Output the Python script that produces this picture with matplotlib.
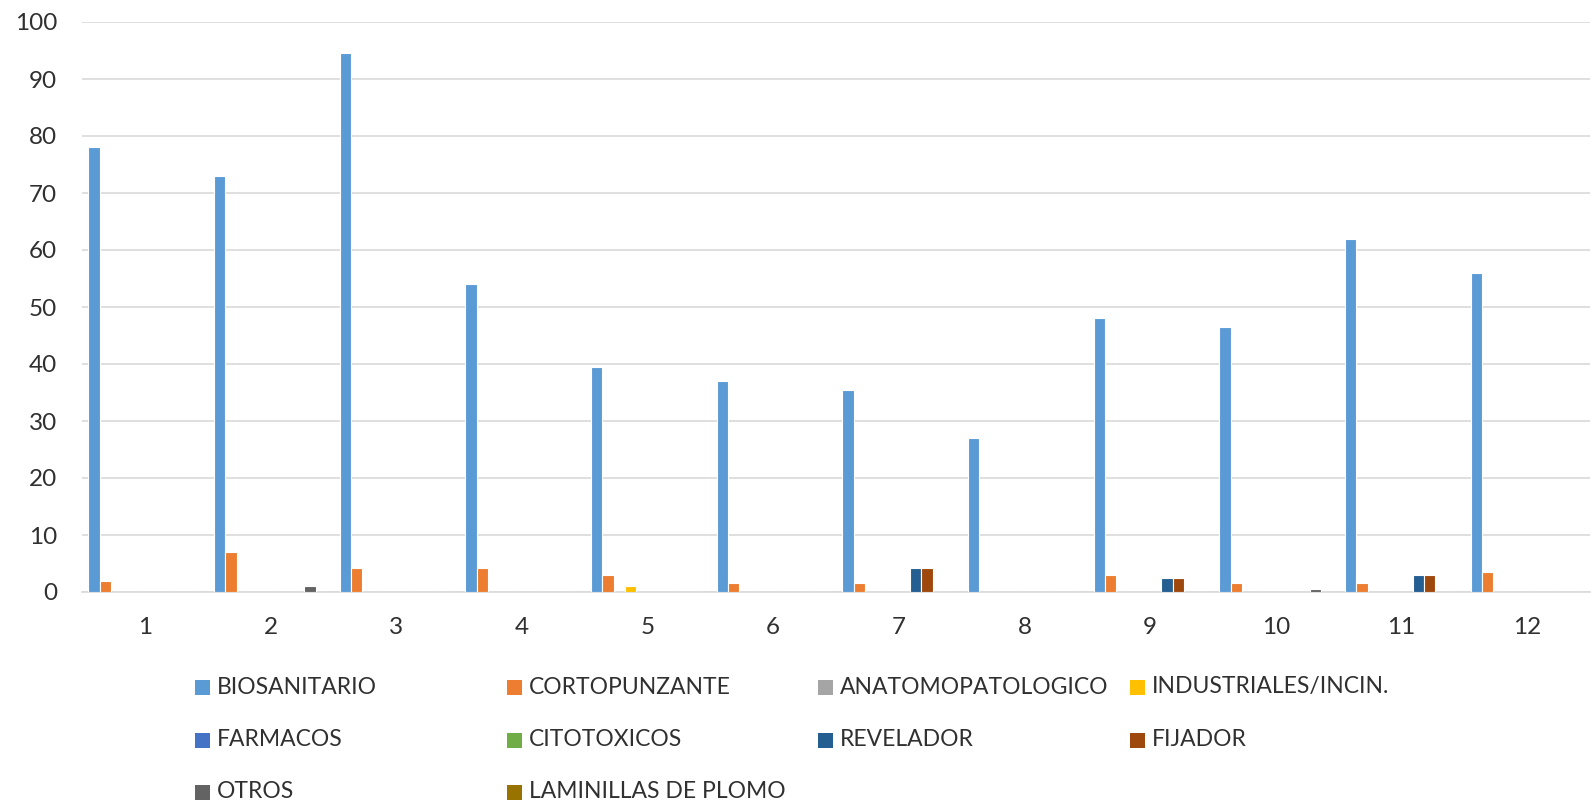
import matplotlib
matplotlib.use("Agg")
import matplotlib.pyplot as plt
from matplotlib.patches import Rectangle
import numpy as np

plt.rcParams['font.family'] = ['Lato', 'DejaVu Sans']

groups = ["1", "2", "3", "4", "5", "6", "7", "8", "9", "10", "11", "12"]
series_names = ["BIOSANITARIO", "CORTOPUNZANTE", "ANATOMOPATOLOGICO", "INDUSTRIALES/INCIN.",
                "FARMACOS", "CITOTOXICOS", "REVELADOR", "FIJADOR", "OTROS", "LAMINILLAS DE PLOMO"]
colors = ["#5B9BD5", "#ED7D31", "#A5A5A5", "#FFC000", "#4472C4", "#70AD47",
          "#255E91", "#9E480E", "#636363", "#997300"]

biosanitario = [78, 73, 94.5, 54, 39.5, 37, 35.5, 27, 48, 46.5, 62, 56]
cortopunzante = [2, 7, 4.2, 4.2, 3, 1.5, 1.5, 0, 3, 1.5, 1.5, 3.5]
anatomopatologico = [0] * 12
industriales = [0, 0, 0, 0, 1, 0, 0, 0, 0, 0, 0, 0]
farmacos = [0] * 12
citotoxicos = [0] * 12
revelador = [0, 0, 0, 0, 0, 0, 4.2, 0, 2.5, 0, 3, 0]
fijador = [0, 0, 0, 0, 0, 0, 4.2, 0, 2.5, 0, 3, 0]
otros = [0, 1, 0, 0, 0, 0, 0, 0, 0, 0.5, 0, 0]
laminillas = [0] * 12

data = [biosanitario, cortopunzante, anatomopatologico, industriales, farmacos,
        citotoxicos, revelador, fijador, otros, laminillas]

W, H = 1591, 802
fig = plt.figure(figsize=(W / 100, H / 100), dpi=100)
ax_l, ax_r, ax_t, ax_b = 82, 1590, 22, 592
ax = fig.add_axes([ax_l / W, 1 - ax_b / H, (ax_r - ax_l) / W, (ax_b - ax_t) / H])

x = np.arange(len(groups))
slot = 0.0897
n = len(data)
for i, (vals, c) in enumerate(zip(data, colors)):
    offs = (i - (n - 1) / 2) * slot
    ax.bar(x + offs, vals, width=slot, color=c, edgecolor="white", linewidth=0.8, zorder=3)

txt = "#303030"
ax.set_xlim(-0.5, len(groups) - 0.5)
ax.set_ylim(0, 100)
ax.set_yticks(np.arange(0, 101, 10))
ax.set_xticks(x)
ax.set_xticklabels(groups)
ax.tick_params(axis='both', length=0, labelsize=17.5, colors=txt)
ax.tick_params(axis='x', pad=18)
ax.tick_params(axis='y', pad=18)
ax.grid(axis='y', color="#D9D9D9", linewidth=1.2, zorder=0)
for s in ['left', 'right', 'top']:
    ax.spines[s].set_visible(False)
ax.spines['bottom'].set_color("#D9D9D9")
ax.spines['bottom'].set_linewidth(1.2)

# manual legend, 4 columns x 3 rows
col_x = [195, 507, 818, 1130]
row_y = [687, 740, 792]
box = 15
for i, (name, c) in enumerate(zip(series_names, colors)):
    cx = col_x[i % 4]
    cy = row_y[i // 4]
    fig.patches.append(Rectangle((cx / W, (H - cy - box / 2) / H), box / W, box / H,
                                 transform=fig.transFigure, facecolor=c, edgecolor='none'))
    fig.text((cx + box + 7) / W, (H - cy) / H, name, fontsize=16.5, color=txt,
             va='center', ha='left')

fig.savefig("out.png", dpi=100, facecolor="white")
